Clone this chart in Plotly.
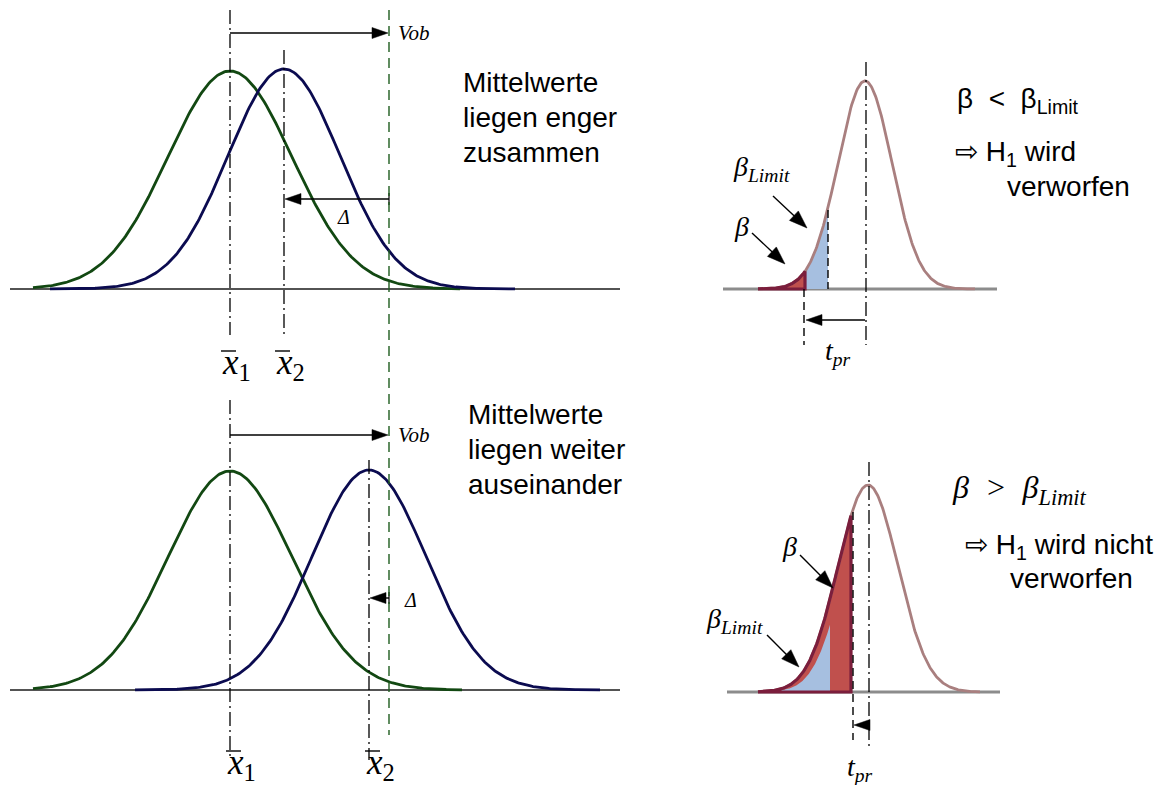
import numpy as np
import plotly.graph_objects as go

# ---------------- data (diagram units = pixels of the sketch) ----------------
# left panels: index 0 = top, 1 = bottom
left_base_y = [289, 690]
mean1 = [230, 230]          # x̄1
mean2 = [284, 369]          # x̄2
vob_x = [389, 389]
amp1 = [218, 219]
amp2 = [220, 220]
sig1 = [62, 62]
sig2 = [56, 57]
start1 = [33, 33]
end1 = [460, 462]
start2 = [50, 135]
end2 = [515, 600]
left_texts = [["Mittelwerte", "liegen enger", "zusammen"],
              ["Mittelwerte", "liegen weiter", "auseinander"]]

# right panels
right_base_y = [289, 692]
r_mean = [865, 868]
r_amp = [208, 207]
r_sig = [27, 30]
r_start = [758, 758]
r_end = [975, 980]
tpr_x = [805, 851]
blue_end = [828, 830]
blue_shift = [0, 7]

SERIF = "Liberation Serif"
SANS = "Liberation Sans"
GREEN = "#124812"
NAVY = "#0b0b50"
ROSY = "#a97f7f"
BLUEF = "#a6bfe0"
REDF = "#c0504d"
MAROON = "#7b1e3c"
GRAY = "#8c8c8c"
DGREEN = "#1e5c1e"
DASHDOT = "14px,4px,2px,4px"


def gauss(x, m, a, s, base):
    return base - a * np.exp(-0.5 * ((x - m) / s) ** 2)


fig = go.Figure()
shapes = []
ann = []
arrows = []


def vline(x, y0, y1, dash=DASHDOT, color="black", width=1.3):
    shapes.append(dict(type="line", x0=x, x1=x, y0=y0, y1=y1,
                       line=dict(color=color, width=width, dash=dash)))


def arrow(x0, y0, x1, y1, L=16, W=5.5, width=1.4):
    arrows.append((x0, y0, x1, y1, L, W, width))


def label(x, y, text, size, family, color="black", xanchor="center"):
    ann.append(dict(x=x, y=y, xref="x", yref="y", text=text, showarrow=False,
                    font=dict(family=family, size=size, color=color),
                    xanchor=xanchor, yanchor="middle"))


# ---------------- left panels ----------------
for i in range(2):
    by = left_base_y[i]
    fig.add_trace(go.Scatter(x=[10, 620], y=[by, by], mode="lines",
                             line=dict(color="#1a1a1a", width=1.5), hoverinfo="skip"))
    xs1 = np.linspace(start1[i], end1[i], 300)
    xs2 = np.linspace(start2[i], end2[i], 300)
    fig.add_trace(go.Scatter(x=xs1, y=gauss(xs1, mean1[i], amp1[i], sig1[i], by), mode="lines",
                             line=dict(color=GREEN, width=2.8), hoverinfo="skip"))
    fig.add_trace(go.Scatter(x=xs2, y=gauss(xs2, mean2[i], amp2[i], sig2[i], by), mode="lines",
                             line=dict(color=NAVY, width=2.8), hoverinfo="skip"))
    if i == 0:
        vline(mean1[i], 10, by + 46)
        vline(mean2[i], 50, by + 46)
    else:
        vline(mean1[i], 400, by + 70)
        vline(mean2[i], 460, by + 70)
    # Vob arrow
    ya = by - 256 if i == 0 else by - 255
    arrow(mean1[i], ya, vob_x[i] - 1, ya)
    label(vob_x[i] + 7, ya, "<i>Vob</i>", 21, SERIF, xanchor="left")
    # Delta arrow
    yd = by - 90 if i == 0 else by - 92
    arrow(vob_x[i], yd, mean2[i] + 1, yd)
    shapes.append(dict(type="line", x0=vob_x[i], x1=vob_x[i], y0=yd - 6, y1=yd + 6,
                       line=dict(color="black", width=1.2)))
    if i == 0:
        label(343, yd + 18, "<i>Δ</i>", 20, SERIF)
    else:
        label(410, yd + 2, "<i>Δ</i>", 20, SERIF)
    # x̄ labels
    ly = 364 if i == 0 else 764
    off = -10 if i == 0 else -5
    for m, sub in ((mean1[i], "1"), (mean2[i], "2")):
        label(m + off, ly, f"<i>x</i><sub>{sub}</sub>", 35, SERIF, xanchor="left")
        shapes.append(dict(type="line", x0=m + off + 1, x1=m + off + 16,
                           y0=ly - 13, y1=ly - 13,
                           line=dict(color="black", width=1.4)))
    # texts
    tx = 461 if i == 0 else 466
    ty0 = 82 if i == 0 else 414
    for k, t in enumerate(left_texts[i]):
        label(tx, ty0 + 35 * k, t, 28, SANS, xanchor="left")

# green dashed Vob line (shared)
vline(vob_x[0], 10, 735, dash="10px,6px", color=DGREEN, width=1.4)

# ---------------- right panels ----------------
for i in range(2):
    by = right_base_y[i]
    fig.add_trace(go.Scatter(x=[723 + 4 * i, 997 + 3 * i], y=[by, by], mode="lines",
                             line=dict(color=GRAY, width=2.8), hoverinfo="skip"))
    xs = np.linspace(r_start[i], r_end[i], 300)
    ys = gauss(xs, r_mean[i], r_amp[i], r_sig[i], by)
    xr = np.linspace(r_start[i], tpr_x[i], 150)
    yr = gauss(xr, r_mean[i], r_amp[i], r_sig[i], by)
    xb = np.linspace(r_start[i], blue_end[i], 150)
    yb = gauss(xb, r_mean[i] + blue_shift[i], r_amp[i], r_sig[i], by)
    blue = go.Scatter(x=np.r_[xb, blue_end[i], r_start[i]], y=np.r_[yb, by, by], mode="lines",
                      fill="toself", fillcolor=BLUEF, line=dict(width=0), hoverinfo="skip")
    red = go.Scatter(x=np.r_[xr, tpr_x[i], r_start[i]], y=np.r_[yr, by, by], mode="lines",
                     fill="toself", fillcolor=REDF, line=dict(width=0), hoverinfo="skip")
    if i == 0:
        fig.add_trace(blue)
        fig.add_trace(red)
    else:
        fig.add_trace(red)
        fig.add_trace(blue)
    fig.add_trace(go.Scatter(x=xs, y=ys, mode="lines", line=dict(color=ROSY, width=2.8),
                             hoverinfo="skip"))
    fig.add_trace(go.Scatter(x=np.r_[xr, tpr_x[i], r_start[i]], y=np.r_[yr, by, by], mode="lines",
                             line=dict(color=MAROON, width=3.2), hoverinfo="skip"))
    vline(r_mean[i] + 1, 62 if i == 0 else 462, by + 56 if i == 0 else 748)

# top-right extras
vline(blue_end[0], 210, right_base_y[0], dash="8px,4px", width=1.4)
vline(tpr_x[0] - 1, right_base_y[0], 345, dash="8px,5px", width=1.4)
arrow(r_mean[0], 320, tpr_x[0] + 1, 320)
label(838, 352, "<i>t</i><sub><i>pr</i></sub>", 28, SERIF)
label(731, 168, "<i>β</i><sub><i>Limit</i></sub>", 28, SERIF, xanchor="left")
label(741, 226, "<i>β</i>", 28, SERIF)
arrow(773, 196, 807, 228, L=18, W=6.5)
arrow(752, 233, 785, 264, L=18, W=6.5)
label(955, 100, "β\u00a0\u00a0<\u00a0\u00a0β<sub>Limit</sub>", 28, SANS, xanchor="left")
label(953, 153, "⇨\u00a0H<sub>1</sub> wird", 28, SANS, xanchor="left")
label(1005, 186, "verworfen", 28, SANS, xanchor="left")

# bottom-right extras
vline(tpr_x[1] + 2, 512, 740, dash="8px,5px", width=1.4)
arrow(r_mean[1] + 1, 725, tpr_x[1] + 3, 725)
label(860, 768, "<i>t</i><sub><i>pr</i></sub>", 28, SERIF)
label(789, 546, "<i>β</i>", 28, SERIF)
label(704, 620, "<i>β</i><sub><i>Limit</i></sub>", 28, SERIF, xanchor="left")
arrow(800, 555, 833, 588, L=18, W=6.5)
arrow(767, 635, 799, 667, L=18, W=6.5)
label(950, 489, "<i>β\u00a0\u00a0&gt;\u00a0\u00a0β</i><sub><i>Limit</i></sub>", 32, SERIF, xanchor="left")
label(963, 546, "⇨\u00a0H<sub>1</sub> wird nicht", 28, SANS, xanchor="left")
label(1008, 578, "verworfen", 28, SANS, xanchor="left")

# arrows: shaft + filled head
for (x0, y0, x1, y1, L, W, lw) in arrows:
    dx, dy = x1 - x0, y1 - y0
    n = np.hypot(dx, dy)
    ux, uy = dx / n, dy / n
    bx, by_ = x1 - ux * L, y1 - uy * L
    fig.add_trace(go.Scatter(x=[x0, bx + ux * 2], y=[y0, by_ + uy * 2], mode="lines",
                             line=dict(color="black", width=lw), hoverinfo="skip"))
    fig.add_trace(go.Scatter(x=[x1, bx - uy * W, bx + uy * W, x1],
                             y=[y1, by_ + ux * W, by_ - ux * W, y1],
                             mode="lines", fill="toself", fillcolor="black",
                             line=dict(color="black", width=0.5), hoverinfo="skip"))

fig.update_layout(
    width=1164, height=785, margin=dict(l=0, r=0, t=0, b=0),
    paper_bgcolor="white", plot_bgcolor="white", showlegend=False,
    xaxis=dict(range=[0, 1164], visible=False, fixedrange=True),
    yaxis=dict(range=[785, 0], visible=False, fixedrange=True),
    shapes=shapes, annotations=ann,
)
fig.write_html("out.html", config={"displayModeBar": False},
               post_script="document.body.style.margin='0';document.body.style.overflow='hidden';")
